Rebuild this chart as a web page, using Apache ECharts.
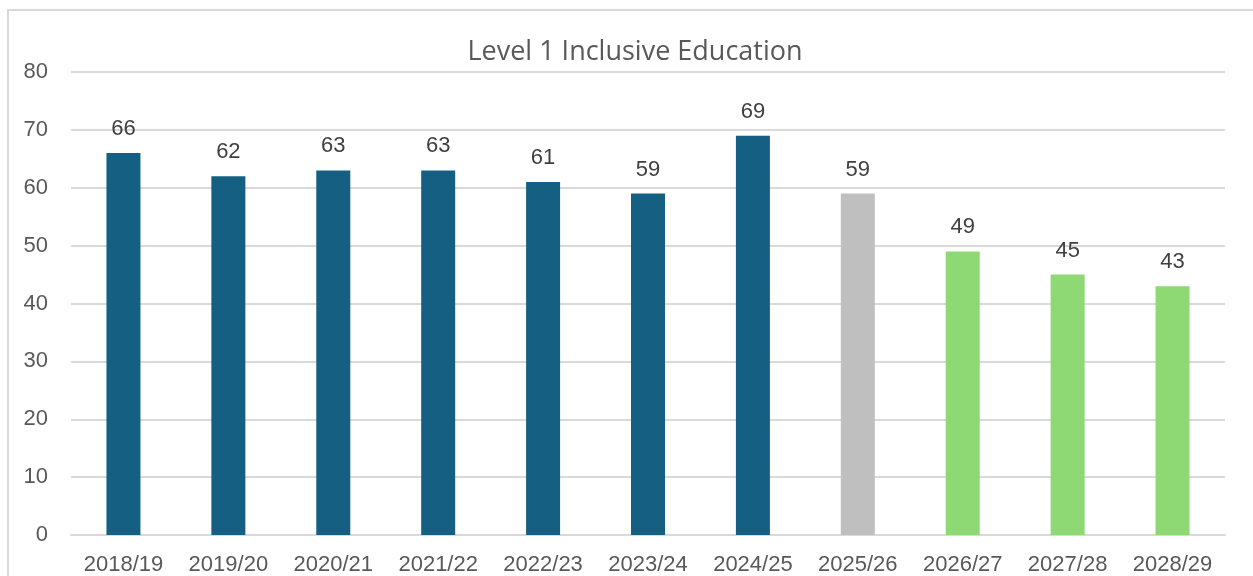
<!DOCTYPE html>
<html>
<head>
<meta charset="utf-8">
<script src="https://cdn.jsdelivr.net/npm/echarts@6/dist/echarts.min.js"></script>
<style>
  html, body {
    margin: 0;
    padding: 0;
    background: #fff;
    overflow: hidden;
  }
  .frame {
    position: absolute;
    left: 7px;
    top: 9px;
    width: 1260px;
    height: 600px;
    border: 2px solid #d9d9d9;
    box-sizing: border-box;
  }
  #chart {
    position: absolute;
    left: 0;
    top: 0;
    width: 1253px;
    height: 576px;
  }
</style>
</head>
<body>
<div class="frame"></div>
<div id="chart"></div>
<script>
const years = ['2018/19', '2019/20', '2020/21', '2021/22', '2022/23', '2023/24',
  '2024/25', '2025/26', '2026/27', '2027/28', '2028/29']
const counts = [66, 62, 63, 63, 61, 59, 69, 59, 49, 45, 43]
// actual / current estimate / projection
const kinds = ['actual', 'actual', 'actual', 'actual', 'actual', 'actual',
  'actual', 'estimate', 'projection', 'projection', 'projection']
const yTicks = [0, 10, 20, 30, 40, 50, 60, 70, 80]

const kindColor = {
  actual: '#156082',
  estimate: '#bfbfbf',
  projection: '#8ed973'
}

const chart = echarts.init(document.getElementById('chart'))
const option = {
  animation: false,
  title: {
    text: 'Level 1 Inclusive Education',
    left: 630,
    textAlign: 'center',
    top: 34,
    textStyle: {
      fontFamily: 'Open Sans',
      fontWeight: 'normal',
      fontSize: 27,
      color: '#595959'
    }
  },
  grid: {
    left: 71,
    right: 28,
    top: 72,
    bottom: 38,
    containLabel: false
  },
  xAxis: {
    type: 'category',
    data: years,
    axisLine: { lineStyle: { color: '#d9d9d9', width: 2 } },
    axisTick: { show: false },
    axisLabel: {
      color: '#595959',
      fontFamily: 'Liberation Sans',
      fontSize: 22,
      margin: 19
    }
  },
  yAxis: {
    type: 'value',
    min: yTicks[0],
    max: yTicks[yTicks.length - 1],
    interval: 10,
    axisLine: { show: false },
    axisTick: { show: false },
    splitLine: { lineStyle: { color: '#d9d9d9', width: 2 } },
    axisLabel: {
      color: '#595959',
      fontFamily: 'Liberation Sans',
      fontSize: 22,
      margin: 23
    }
  },
  series: [{
    type: 'bar',
    barWidth: 34,
    data: counts.map((v, i) => ({
      value: v,
      itemStyle: { color: kindColor[kinds[i]] }
    })),
    label: {
      show: true,
      position: 'top',
      distance: 13,
      color: '#404040',
      fontFamily: 'Liberation Sans',
      fontSize: 22
    }
  }]
}
chart.setOption(option)
</script>
</body>
</html>
